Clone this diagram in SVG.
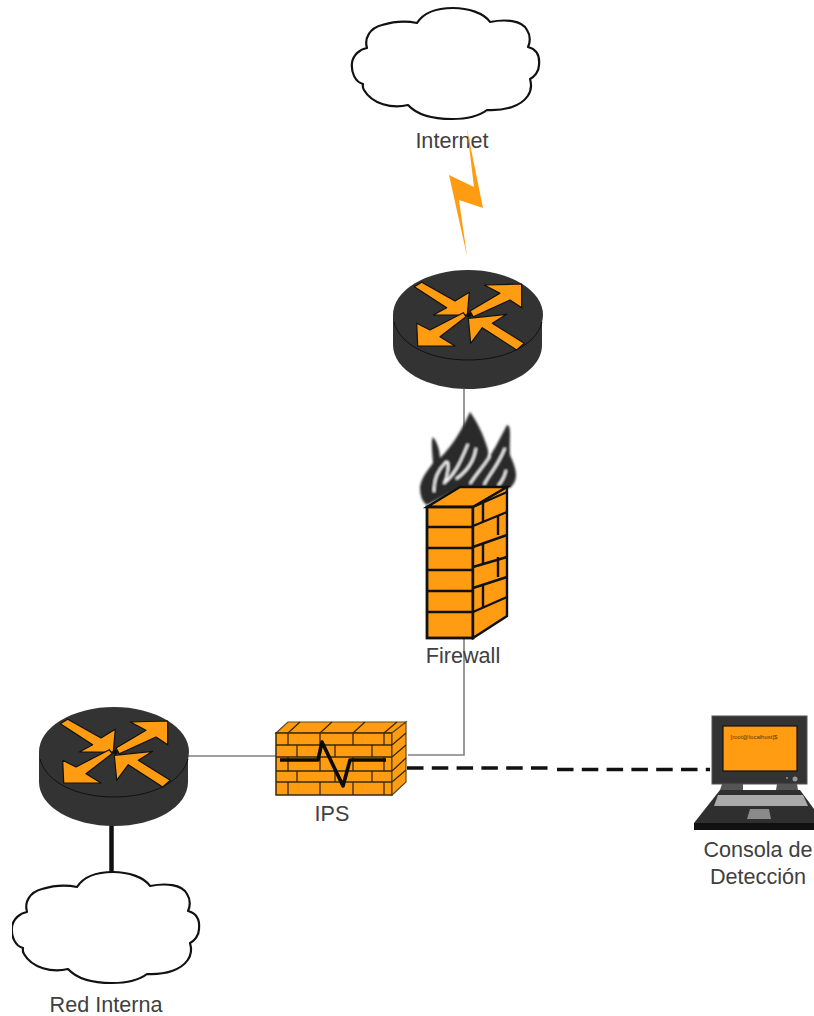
<svg xmlns="http://www.w3.org/2000/svg" width="814" height="1016" viewBox="0 0 814 1016">
<style>
text{font-family:"Liberation Sans",Arial,sans-serif;font-size:21.6px;fill:#404040;text-anchor:middle}
.cloud{fill:#fff;stroke:#111;stroke-width:2.2;stroke-linejoin:round}
.or{fill:#ff9c12}
.arrow{fill:#ff9c12;stroke:#111;stroke-width:1.2;stroke-linejoin:round}
.b{stroke:#111;stroke-width:2.4;fill:none}
.b3{stroke:#3a2a05;stroke-width:1.3;fill:none}
.dark{fill:#333}
</style>
<defs>
<path id="cloudShape" class="cloud" d="M417 23C424 12 438 8 453 8C468 8 484 13 490 22C505 19 522 20 527 30C531 36 530 43 528 47C536 49 540 55 539 65C539 72 534 77 530 79C534 92 526 102 512 107C500 111 490 110 487 110C478 117 465 119 452 119C436 119 418 116 408 105C392 109 372 104 364 90C362 87 363 85 363 84C355 82 351 72 352 63C353 55 360 49 367 48C364 38 370 28 382 25C395 21 408 21 417 23Z"/>
<g id="routerShape">
<path class="dark" d="M393 315V345C393 370 427 389 468 389C509 389 542 370 542 345V315Z"/>
<ellipse class="dark" cx="468" cy="315" rx="75" ry="45"/>
<path d="M394 322C400 345 430 360 468 360C506 360 536 345 542 322" fill="none" stroke="#111" stroke-width="1"/>
<path class="arrow" d="M421.700 282.300L455 301L469.300 292.300L467.300 315L433.300 315L446.700 307.700L414.300 286.700Z"/>
<path class="arrow" d="M470 311L500 293.300L484.300 285L521.700 284L521.700 307.700L510 300L473.300 316.700Z"/>
<path class="arrow" d="M466 316.700L440 336.700L455 346L417.700 346L416.700 323.300L430 330L463.300 312.700Z"/>
<path class="arrow" d="M468.300 318.300L506.700 314.300L492.300 323.300L524.300 343.300L516.700 350L482.300 327.700L470.700 343.300Z"/>
<circle cx="469" cy="315" r="2.500" fill="#111"/>
</g>
<filter id="soft" x="-10%" y="-10%" width="120%" height="120%"><feGaussianBlur stdDeviation="1"/></filter>
</defs>

<g id="connectors" fill="none">
<path d="M464 389V755H408" stroke="#808080" stroke-width="1.600"/>
<path d="M188 756H277" stroke="#808080" stroke-width="1.600"/>
<path d="M407 768H548" stroke="#111" stroke-width="3.600" stroke-dasharray="16.500 8.300"/>
<path d="M557 769.500H710" stroke="#111" stroke-width="3.600" stroke-dasharray="16.500 8.300"/>
<path d="M111.500 819V873" stroke="#111" stroke-width="4.500"/>
</g>

<g id="internet">
<use href="#cloudShape"/>
<text x="452" y="148">Internet</text>
</g>
<g id="bolt"><path d="M467 129L474 187L449 175L467 256L459 200L483 208Z" class="or"/></g>
<g id="router1"><use href="#routerShape"/></g>

<g id="firewall">
<g filter="url(#soft)">
<path fill="#2c2c2c" d="M420 487C421 478 428 470 433 463C432 450 431 440 433 437C437 442 440 450 440 458C451 447 461 432 470 412C476 420 483 433 488 450C489 460 486 464 485 463C492 455 501 436 507 425C512 425 509 440 510 455C517 470 519 480 510 488L460 488L427 505C422 502 420 495 420 487Z"/>
<path fill="none" stroke="#fff" stroke-width="2.200" d="M434 492C434 478 438 470 446 462C450 460 448 476 444 484M444 483C456 474 462 458 468 444M456 479C466 472 474 462 476 448M470 484C476 474 484 466 490 456M484 485C488 476 498 466 505 448M498 486C503 480 505 476 506 470"/>
</g>
<path d="M427 507L460 487H507L473 507Z" class="or" stroke="#111" stroke-width="2.400"/>
<rect x="427" y="507" width="46" height="131" class="or" stroke="#111" stroke-width="2.800"/>
<path d="M473 507L507 487V616L473 638Z" class="or" stroke="#111" stroke-width="2.400"/>
<path class="b" d="M427 527H473M427 548H473M427 570H473M427 591H473M427 612H473"/>
<path class="b" d="M473 507L507 492M473 526L507 512M473 547L507 535M473 567L507 557M473 588L507 577M473 612L507 597"/>
<path class="b" d="M483 503V522M498 515V535M483 543V563M498 557V577M483 585V607"/>
<text x="463" y="663">Firewall</text>
</g>

<g id="ips">
<path d="M276 733L288 722H406L392 733Z" class="or" stroke="#5a4a20" stroke-width="1.200"/>
<rect x="276" y="733" width="116" height="62" class="or" stroke="#3a2a05" stroke-width="1.500"/>
<path d="M392 733L406 722V782L392 795Z" class="or" stroke="#5a4a20" stroke-width="1.200"/>
<path class="b3" d="M276 745H392M276 757H392M276 771H392M276 782H392"/>
<path class="b3" d="M288 733V745M320 733V745M353 733V745M384 733V745M297 745V757M335 745V757M372 745V757M288 757V771M320 757V771M353 757V771M384 757V771M297 771V782M335 771V782M372 771V782M288 782V795M320 782V795M353 782V795M384 782V795"/>
<path class="b3" d="M288 733L300 722M320 733L332 722M353 733L365 722M384 733L397 722M392 745L406 733M392 757L406 745M392 771L406 758M392 782L406 770"/>
<path d="M280 760H318L322 742L343 786L350 760H386" fill="none" stroke="#0a0a0a" stroke-width="3.600" stroke-linejoin="round"/>
<text x="332" y="821">IPS</text>
</g>

<g id="laptop">
<path d="M722 784H743V790H720ZM777 784H797L798 790H776Z" fill="#555"/>
<path d="M720 790H800L814 809V830H694V823Z" fill="#2f2f2f"/>
<path d="M694 823H814V830H694Z" fill="#111"/>
<rect x="712" y="716" width="95" height="68" fill="#333" stroke="#555" stroke-width="1"/>
<rect x="723" y="726" width="74" height="45" class="or" stroke="#111" stroke-width="1.200"/>
<path d="M718 795H803L808 806H714Z" fill="#aaa"/>
<path d="M750 809H769L771 819H747Z" fill="#8a8a8a"/>
<circle cx="795" cy="779" r="2.500" fill="#999"/><circle cx="787" cy="778" r="1" fill="#999"/>
<text x="754" y="739" style="font-size:6px;fill:#5a3a00">[root@localhost]$</text>
<text x="758" y="857">Consola de</text>
<text x="758" y="884">Detección</text>
</g>

<g id="router2"><use href="#routerShape" x="-354" y="437"/></g>
<g id="redinterna">
<use href="#cloudShape" x="-340" y="864"/>
<rect x="0" y="900" width="12" height="60" fill="#fff"/>
<text x="106" y="1012">Red Interna</text>
</g>
</svg>
